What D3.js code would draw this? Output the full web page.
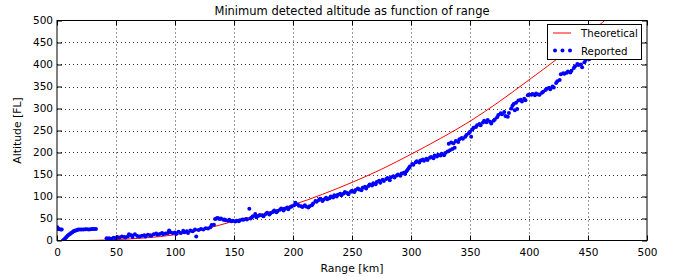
<!doctype html>
<html>
  <head>
    <meta charset="utf-8">
    <title>Minimum detected altitude</title>
    <script src="https://d3js.org/d3.v7.min.js"></script>
    <style type="text/css">
      body { margin: 0; background-color: #ffffff; }
      text { font-family: "DejaVu Sans", sans-serif; fill: #000; }
    </style>
  </head>
  <body>
    <script>
// chart data
var xTicks = [0, 50, 100, 150, 200, 250, 300, 350, 400, 450, 500];
var yTicks = [0, 50, 100, 150, 200, 250, 300, 350, 400, 450, 500];

// theoretical curve
var theoRange = [25, 50, 75, 100, 125, 150, 175, 200, 225, 250, 275, 300, 325, 350, 375, 400, 425, 450, 475];
var theoAlt   = [0, 2, 6, 13, 26, 44, 61, 81, 105, 132, 162, 196, 232, 271, 316, 365, 415, 468, 525];

// reported detections
var repRange = [0.3, 0.8, 1.5, 3, 4,
  5, 6, 7, 8, 9, 10, 11, 12, 13, 14, 15, 16, 17,
  18, 19.5, 21, 22.5, 24, 25.5, 27, 28.5, 30, 31.5, 33,
  42, 44, 46, 48, 50, 51, 53, 55, 57, 58, 60, 61, 63, 64, 66, 68, 70, 72, 74, 75, 77, 79, 80, 82, 84, 85, 87, 89, 90, 92, 94, 95, 96, 98, 100, 101, 103, 105, 107, 108, 110, 111, 113, 115, 117, 118, 120, 122, 124, 126, 128,
  130, 131, 133, 134, 135, 136, 137, 138, 139, 141, 142, 143, 145, 146, 148, 149, 151, 152, 154, 155, 157, 158, 160, 161, 163, 164, 165,
  166, 168, 169, 171, 172, 174, 175, 177, 178, 180, 181, 183, 184, 186, 187, 189, 190, 192, 193, 195, 196, 198, 199, 201, 202, 204, 205, 207, 208, 210, 211, 213, 214, 216, 217, 219, 220, 222, 223, 225, 226, 228, 229, 231, 232, 234, 235,
  237, 238, 240, 241, 243, 244, 246, 247, 249, 250, 252, 253, 255, 256, 258, 259, 261, 262, 264, 265, 267, 268, 270, 271, 273, 274, 276, 277, 279, 280, 282, 283, 285, 286, 288, 289, 291, 292, 294, 295, 296, 297, 298, 299, 301, 302,
  304, 305, 307, 308, 310, 311, 313, 314, 316, 317, 319, 320, 322, 323, 325, 326, 328, 329, 331, 332, 333, 334, 335, 336, 337, 338, 340, 341, 343, 344, 346, 347, 349, 350, 351, 352, 353, 355, 356, 358,
  359, 361, 362, 364, 365, 367, 368, 370, 371, 373, 374, 376, 377, 379, 380, 382, 383, 385, 386, 387, 388, 389, 390, 391, 393, 394, 396, 397, 399, 400, 402, 403, 405, 406, 408, 409, 411, 412, 414, 415, 417, 418, 420, 421, 423, 424, 426, 427, 429, 430, 432, 433, 435, 436, 438, 439, 441, 442, 444, 445, 447, 448, 450, 451, 453, 455, 457];
var repAlt = [30, 27, 26, 25, 25,
  0, 2, 5, 8, 11, 13, 15, 17, 19, 21, 22, 23, 24,
  25, 25, 25, 25, 25.5, 25.5, 25, 25.5, 26, 26, 26,
  5, 5, 4, 6, 5, 8, 7, 9, 8, 7, 9, 14, 12, 8, 14, 10, 9, 11, 12, 9, 13, 12, 11, 14, 16, 13, 15, 17, 14, 16, 17, 23, 19, 17, 18, 15, 20, 17, 22, 19, 21, 17, 23, 21, 25, 9, 24, 26, 25, 28, 27,
  30, 35, 36, 49, 50, 51, 50, 49, 50, 47, 48, 46, 45, 47, 44, 45, 43, 45, 44, 46, 48, 47, 49, 48, 72, 50, 52,
  55, 60, 53, 56, 58, 57, 55, 60, 63, 59, 62, 65, 68, 64, 67, 70, 73, 68, 72, 75, 71, 76, 78, 80, 86, 82, 79, 78, 76, 80, 77, 75, 78, 80, 84, 90, 88, 92, 95, 90, 93, 97, 94, 96, 100, 98, 103,
  100, 104, 106, 103, 107, 110, 108, 105, 111, 113, 110, 115, 118, 116, 114, 120, 122, 118, 124, 127, 125, 130, 128, 133, 136, 131, 138, 135, 140, 142, 137, 144, 146, 143, 148, 150, 147, 152, 154, 151, 157, 160, 164, 168, 174, 172,
  178, 180, 177, 182, 184, 181, 186, 183, 188, 190, 187, 193, 191, 195, 193, 197, 194, 199, 202, 220, 205, 223, 208, 221, 211, 226, 224, 230, 233, 231, 236, 240, 244, 247, 236, 252, 256, 258, 262, 265,
  262, 268, 272, 269, 274, 270, 266, 272, 275, 280, 285, 289, 287, 292, 283, 281, 290, 300, 306, 310, 296, 313, 299, 318, 320, 316, 322, 319, 330, 332, 331, 333, 330, 334, 332, 331, 336, 338, 342, 345, 347, 344, 350, 348, 358, 362, 365, 378, 380, 379, 381, 384, 382, 386, 392, 396, 401, 399, 400, 394, 405, 410, 414, 412, 420, 428, 433];

var W = 675, H = 277;
var pL = 57, pR = 647, pT = 20.5, pB = 240.5;

var x = d3.scaleLinear().domain([0, 500]).range([pL, pR]);
var y = d3.scaleLinear().domain([0, 500]).range([pB, pT]);

var svg = d3.select("body").append("svg")
  .attr("width", W)
  .attr("height", H);

svg.append("defs").append("clipPath").attr("id", "plotclip")
  .append("rect")
  .attr("x", pL).attr("y", pT)
  .attr("width", pR - pL).attr("height", pB - pT);

// grid
var grid = svg.append("g");
grid.selectAll("line.gx")
  .data(xTicks.slice(1, -1))
  .enter().append("line")
  .attr("x1", function(d){ return Math.round(x(d)) + 0.5; })
  .attr("x2", function(d){ return Math.round(x(d)) + 0.5; })
  .attr("y1", pT).attr("y2", pB)
  .style("stroke", "#000").style("stroke-width", 0.8)
  .style("stroke-dasharray", "1,3");
grid.selectAll("line.gy")
  .data(yTicks.slice(1, -1))
  .enter().append("line")
  .attr("y1", function(d){ return Math.round(y(d)) + 0.5; })
  .attr("y2", function(d){ return Math.round(y(d)) + 0.5; })
  .attr("x1", pL).attr("x2", pR)
  .style("stroke", "#000").style("stroke-width", 0.8)
  .style("stroke-dasharray", "1,3");

var plot = svg.append("g").attr("clip-path", "url(#plotclip)");

// theoretical line
var line = d3.line()
  .x(function(d, i){ return x(theoRange[i]); })
  .y(function(d, i){ return y(theoAlt[i]); })
  .curve(d3.curveMonotoneX);
plot.append("path")
  .attr("d", line(theoRange))
  .style("fill", "none")
  .style("stroke", "#ff0000")
  .style("stroke-width", 1);

// reported points
plot.selectAll("circle")
  .data(repRange)
  .enter().append("circle")
  .attr("cx", function(d){ return x(d); })
  .attr("cy", function(d, i){ return y(repAlt[i]); })
  .attr("r", 2)
  .style("fill", "#0000ff");

// axes (ticks inside, on all four sides)
var axB = d3.axisBottom(x).tickValues(xTicks).tickSizeInner(-5).tickSizeOuter(0).tickPadding(8);
var axT = d3.axisTop(x).tickValues(xTicks).tickSizeInner(-5).tickSizeOuter(0).tickFormat("");
var axL = d3.axisLeft(y).tickValues(yTicks).tickSizeInner(-5).tickSizeOuter(0).tickPadding(4);
var axR = d3.axisRight(y).tickValues(yTicks).tickSizeInner(-5).tickSizeOuter(0).tickFormat("");

function styleAxis(g) {
  g.select(".domain").remove();
  g.selectAll("line").style("stroke", "#000").style("stroke-width", 1);
  g.selectAll("text").style("font-size", "10.5px").style("font-family", "DejaVu Sans");
}
svg.append("g").attr("transform", "translate(0," + pB + ")").call(axB).call(styleAxis);
svg.append("g").attr("transform", "translate(0," + pT + ")").call(axT).call(styleAxis);
svg.append("g").attr("transform", "translate(" + pL + ",0)").call(axL).call(styleAxis);
svg.append("g").attr("transform", "translate(" + pR + ",0)").call(axR).call(styleAxis);

// frame
svg.append("rect")
  .attr("x", pL).attr("y", pT)
  .attr("width", pR - pL).attr("height", pB - pT)
  .style("fill", "none").style("stroke", "#000").style("stroke-width", 1);

// labels
svg.append("text")
  .attr("x", (pL + pR) / 2).attr("y", 15)
  .attr("text-anchor", "middle")
  .style("font-size", "11.5px")
  .text("Minimum detected altitude as function of range");
svg.append("text")
  .attr("x", (pL + pR) / 2).attr("y", 272)
  .attr("text-anchor", "middle")
  .style("font-size", "10.8px")
  .text("Range [km]");
svg.append("text")
  .attr("transform", "translate(21," + (pT + pB) / 2 + ") rotate(-90)")
  .attr("text-anchor", "middle")
  .style("font-size", "10.8px")
  .text("Altitude [FL]");

// legend
var lg = svg.append("g");
lg.append("rect")
  .attr("x", 547.5).attr("y", 24.5)
  .attr("width", 94).attr("height", 35)
  .style("fill", "#fff").style("stroke", "#000").style("stroke-width", 1);
lg.append("line")
  .attr("x1", 553).attr("x2", 571).attr("y1", 33).attr("y2", 33)
  .style("stroke", "#ff0000").style("stroke-width", 1);
lg.selectAll("circle")
  .data([555, 562.5, 570])
  .enter().append("circle")
  .attr("cx", function(d){ return d; }).attr("cy", 50.5).attr("r", 2)
  .style("fill", "#0000ff");
lg.append("text").attr("x", 581).attr("y", 37).style("font-size", "10.2px").text("Theoretical");
lg.append("text").attr("x", 581).attr("y", 54.5).style("font-size", "10.2px").text("Reported");
    </script>
  </body>
</html>
